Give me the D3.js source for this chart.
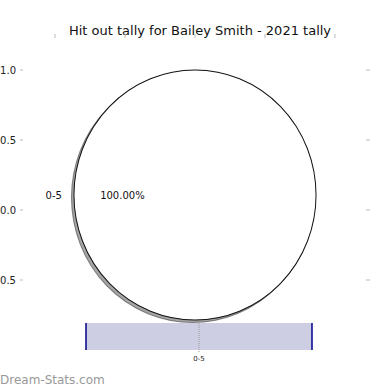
<!DOCTYPE html>
<html>
<head>
<meta charset="utf-8">
<script src="https://cdn.jsdelivr.net/npm/d3@7"></script>
<style>
  body { margin: 0; background: #fff; }
  text { font-family: 'DejaVu Sans', sans-serif; }
</style>
</head>
<body>
<div id="chart"></div>
<script>
// data
var categories = ["0-5"];
var tallies = [1];
var yTicks = [1.0, 0.5, 0.0, -0.5];
var topTicks = [0, 1, 2, 3, 4];
var title = "Hit out tally for Bailey Smith - 2021 tally";

var width = 390, height = 390;
var svg = d3.select("#chart").append("svg")
    .attr("width", width).attr("height", height);

// title
svg.append("text")
    .attr("x", 200).attr("y", 35)
    .attr("text-anchor", "middle")
    .attr("font-size", "13px")
    .attr("fill", "#111")
    .text(title);

// left / right axes (leftover from the underlying subplot)
var y = d3.scaleLinear().domain([-0.5, 1.0]).range([280, 70]);
var leftAxis = svg.append("g");
yTicks.forEach(function(t) {
  leftAxis.append("line")
      .attr("x1", 20).attr("x2", 23)
      .attr("y1", y(t)).attr("y2", y(t))
      .style("stroke", "#bbb");
  leftAxis.append("text")
      .attr("x", 16).attr("y", y(t))
      .attr("dy", "0.35em")
      .attr("text-anchor", "end")
      .attr("font-size", "10px")
      .attr("fill", "#222")
      .text(d3.format(".1f")(t).replace("-", "\u2212"));
  leftAxis.append("line")
      .attr("x1", 366).attr("x2", 370)
      .attr("y1", y(t)).attr("y2", y(t))
      .style("stroke", "#bbb");
});

var xTop = d3.scaleLinear().domain([0, 4]).range([55, 335]);
topTicks.forEach(function(t) {
  svg.append("line")
      .attr("x1", xTop(t)).attr("x2", xTop(t))
      .attr("y1", 34).attr("y2", 38)
      .style("stroke", "#bbb");
});

// pie
var cx = 195, cy = 195, r = 121, ry = 125;
var pie = d3.pie().sort(null).startAngle(-Math.PI).endAngle(Math.PI);
var arcs = pie(tallies);
var arc = d3.arc().innerRadius(0).outerRadius(r);
var total = d3.sum(tallies);

var pieG = svg.append("g")
    .attr("transform", "translate(" + cx + "," + cy + ") scale(1," + (ry / r) + ")");

// shadow
pieG.selectAll("path.shadow")
    .data(arcs)
    .enter().append("path")
    .attr("class", "shadow")
    .attr("d", arc)
    .attr("transform", "translate(-2.5,2.5)")
    .style("fill", "rgba(76,76,76,0.5)")
    .style("stroke", "rgba(40,40,40,0.5)")
    .style("stroke-width", 1);

pieG.selectAll("path.slice")
    .data(arcs)
    .enter().append("path")
    .attr("class", "slice")
    .attr("d", arc)
    .style("fill", "#fff")
    .style("stroke", "#111")
    .style("stroke-width", 1);

// labels (wedge mid-angle sits on the left)
arcs.forEach(function(a, i) {
  var ang = Math.PI; // left side
  svg.append("text")
      .attr("x", cx + Math.cos(ang) * r * 1.1)
      .attr("y", cy)
      .attr("dy", "0.35em")
      .attr("text-anchor", "end")
      .attr("font-size", "10px")
      .attr("fill", "#111")
      .text(categories[i]);
  svg.append("text")
      .attr("x", cx + Math.cos(ang) * r * 0.6)
      .attr("y", cy)
      .attr("dy", "0.35em")
      .attr("text-anchor", "middle")
      .attr("font-size", "10px")
      .attr("fill", "#111")
      .text(d3.format(".2f")(tallies[i] / total * 100) + "%");
});

// bottom box plot strip
var xb = d3.scaleBand().domain(categories).range([86, 312]);
var yb = d3.scaleLinear().domain([0, 1]).range([350, 323]);
var strip = svg.append("g");
categories.forEach(function(c) {
  strip.append("rect")
      .attr("x", xb(c)).attr("y", yb(1))
      .attr("width", xb.bandwidth()).attr("height", yb(0) - yb(1))
      .style("fill", "#cdcde3");
  strip.append("line")
      .attr("x1", xb(c)).attr("x2", xb(c))
      .attr("y1", yb(1)).attr("y2", yb(0))
      .style("stroke", "#00008b").style("stroke-width", 1.5);
  strip.append("line")
      .attr("x1", xb(c) + xb.bandwidth()).attr("x2", xb(c) + xb.bandwidth())
      .attr("y1", yb(1)).attr("y2", yb(0))
      .style("stroke", "#00008b").style("stroke-width", 1.5);
  var mid = xb(c) + xb.bandwidth() / 2;
  strip.append("line")
      .attr("x1", mid).attr("x2", mid)
      .attr("y1", yb(1)).attr("y2", yb(0) + 2)
      .style("stroke", "#999").style("stroke-dasharray", "1,1");
  strip.append("text")
      .attr("x", mid).attr("y", 361)
      .attr("text-anchor", "middle")
      .attr("font-size", "7px")
      .attr("fill", "#222")
      .text(c);
});

// watermark
svg.append("text")
    .attr("x", 0).attr("y", 384)
    .attr("font-size", "12px")
    .attr("fill", "#999")
    .text("Dream-Stats.com");
</script>
</body>
</html>
